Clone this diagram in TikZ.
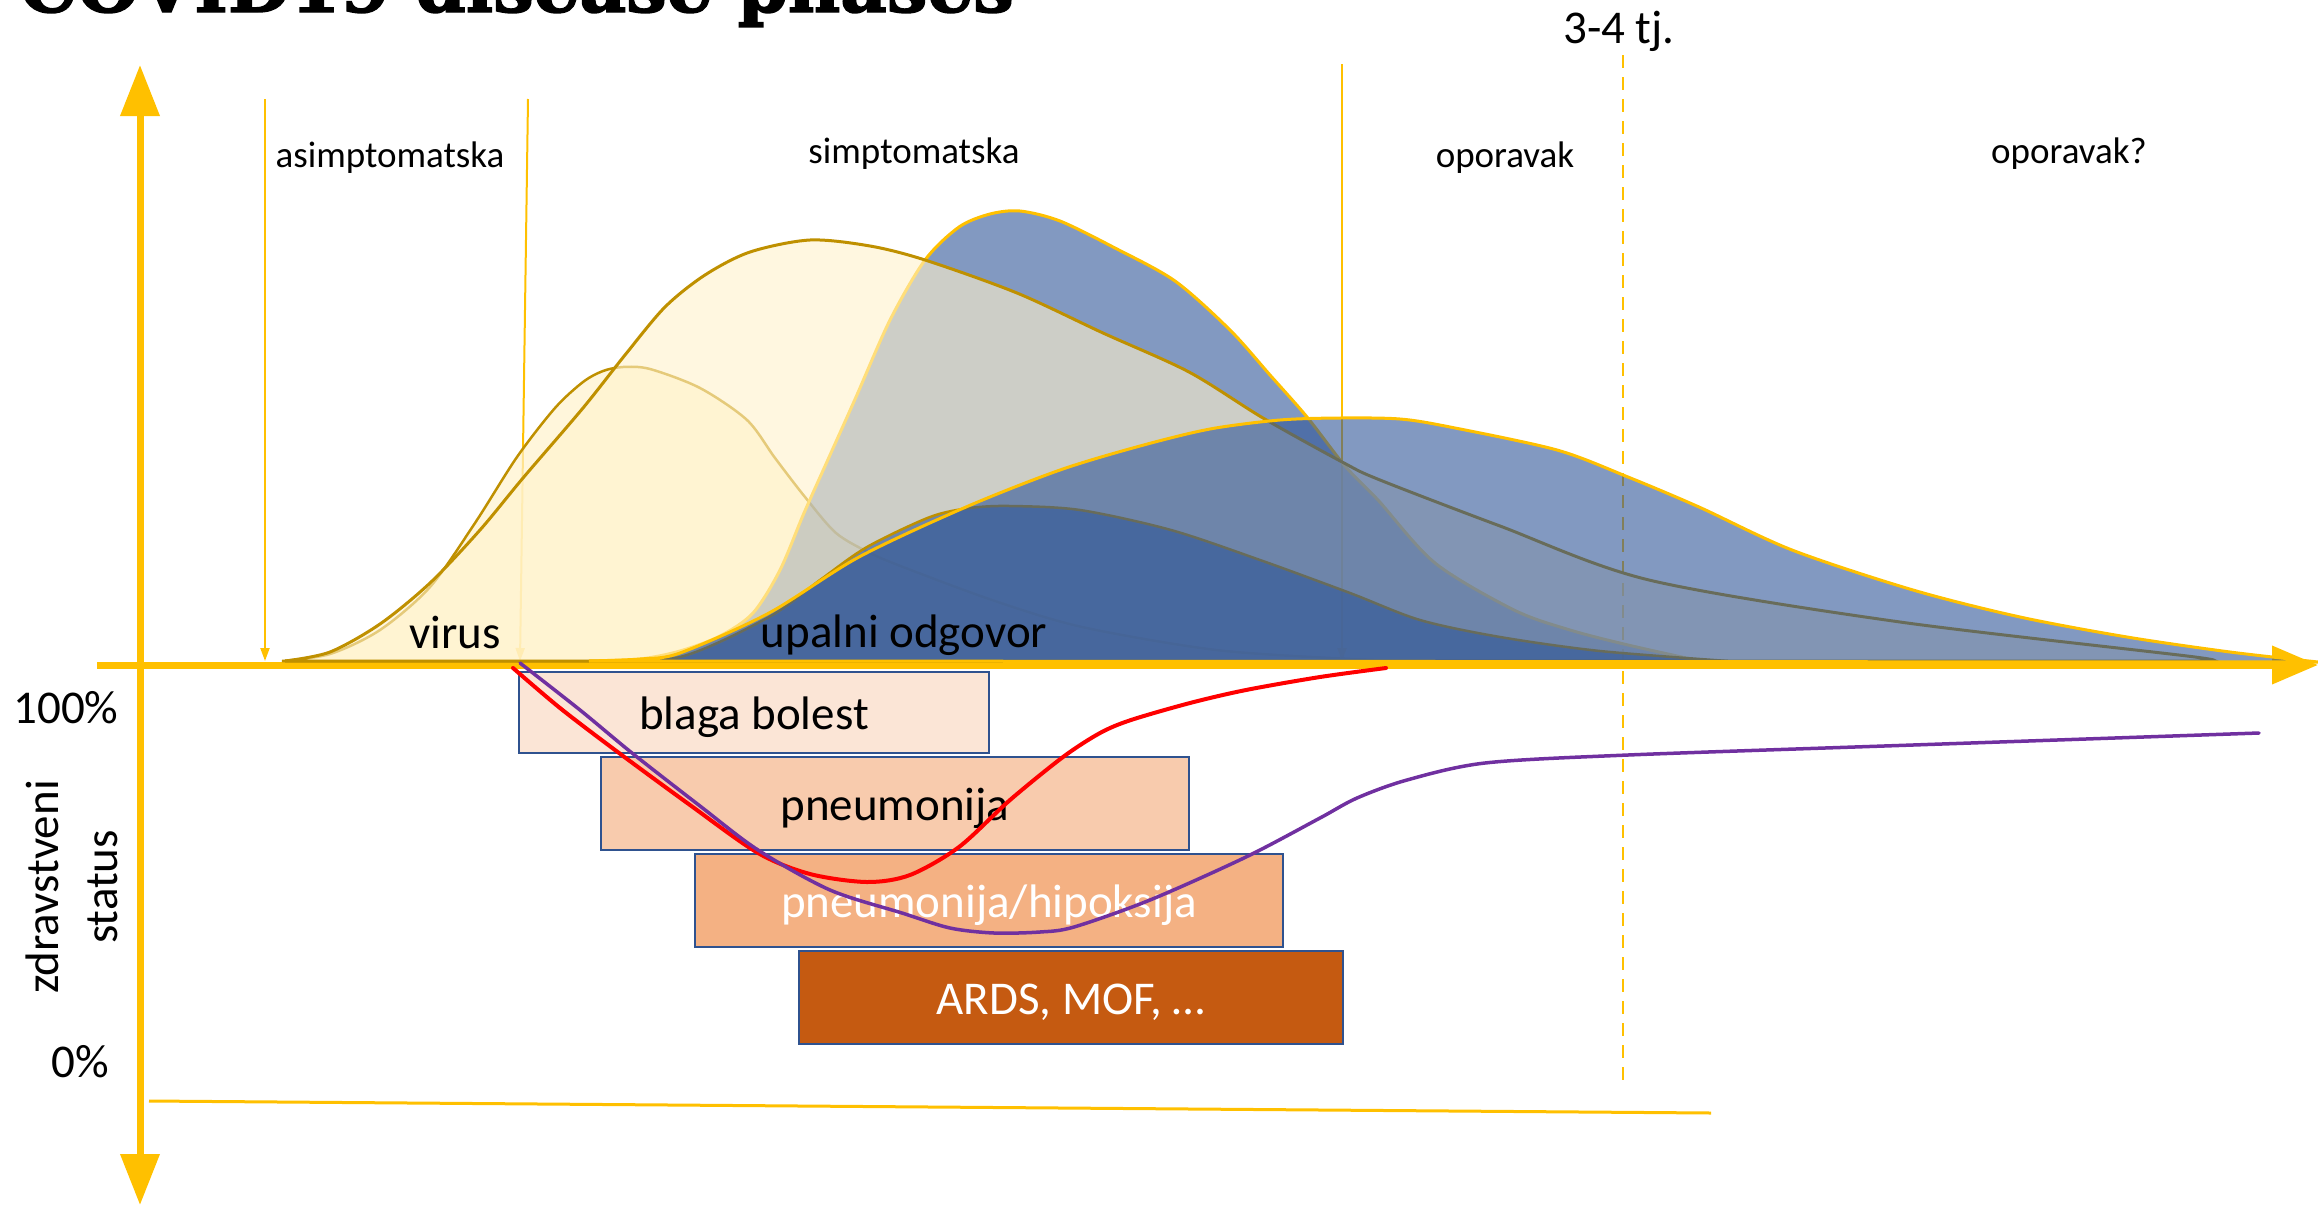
\documentclass[tikz,border=0pt]{standalone}
\usepackage{fontspec}
\setmainfont{Carlito}
\newfontfamily\titlefont{DejaVu Serif}[BoldFeatures={FakeBold=2}]
\usetikzlibrary{arrows.meta}
\definecolor{axisgold}{RGB}{255,192,0}
\definecolor{darkgold}{RGB}{191,144,0}
\definecolor{virusfill}{RGB}{255,242,204}
\definecolor{immunefill}{RGB}{47,85,151}
\definecolor{boxedge}{RGB}{47,82,143}
\definecolor{mildfill}{RGB}{251,229,214}
\definecolor{pneufill}{RGB}{248,203,173}
\definecolor{hypofill}{RGB}{244,177,131}
\definecolor{ardsfill}{RGB}{197,90,17}
\definecolor{courseA}{RGB}{255,0,0}
\definecolor{courseB}{RGB}{112,48,160}

\begin{document}
\begin{tikzpicture}[x=1pt, y=-1pt,
    big/.style={font=\fontsize{47}{59}\selectfont},
    small/.style={font=\fontsize{37}{44}\selectfont},
    axis/.style={axisgold, line width=7pt},
    phase/.style={axisgold, line width=2pt, -{Triangle[length=13pt,width=9pt]}},
    virushump/.style={draw=darkgold, line width=2.5pt, fill=virusfill, fill opacity=0.7},
    virusbig/.style={draw=darkgold, line width=3pt, fill=virusfill, fill opacity=0.6},
    immunehump/.style={draw=axisgold, line width=3pt, fill=immunefill, fill opacity=0.6},
    immunelow/.style={draw=darkgold, line width=2.5pt, fill=immunefill, fill opacity=0.6},
    box/.style={draw=boxedge, line width=2.5pt, big, inner sep=0pt, text height=42pt, text depth=8.5pt},
    course/.style={line width=4pt, line cap=round}]

    \useasboundingbox (0,0) rectangle (2318,1205);

    % Title (cut by the top edge)
    \node[anchor=base west, font=\titlefont\bfseries\fontsize{72}{80}\selectfont] (title) at (16,12) {COVID19 disease phases};

    % Phase borders
    \coordinate (p1top) at (265,99);   \coordinate (p1bot) at (265,661);
    \coordinate (p2top) at (528,99);   \coordinate (p2bot) at (520,661);
    \coordinate (p3top) at (1342,64);  \coordinate (p3bot) at (1342,661);
    \draw[phase] (p1top) -- (p1bot);
    \draw[phase] (p2top) -- (p2bot);
    \draw[phase] (p3top) -- (p3bot);
    \coordinate (weektop) at (1623,55); \coordinate (weekbot) at (1623,1083);
    \draw[axisgold, line width=2pt, dash pattern=on 13pt off 9pt] (weektop) -- (weekbot);

    % Axes
    \coordinate (ytop) at (140,65);  \coordinate (ybot) at (140,1205);
    \coordinate (xleft) at (97,665); \coordinate (xright) at (2318,665);
    \draw[axis, {Triangle[length=51pt,width=38pt]}-{Triangle[length=51pt,width=38pt]}] (ybot) -- (ytop);
    \draw[axis, -{Triangle[length=46pt,width=37pt]}] (xleft) -- (xright);
    \coordinate (baseL) at (149,1101); \coordinate (baseR) at (1711,1113);
    \draw[axisgold, line width=3pt] (baseL) -- (baseR);

    % Virus load and inflammatory response
    \draw[virushump] plot[smooth, tension=0.5] coordinates {(282,661) (330,654) (380,630) (430,587) (475,523) (517,457) (555,408) (583,382) (603,371) (623,367) (650,369) (700,388) (747,420) (775,458) (805,497) (836,533) (870,553) (903,567) (992,600) (1082,627) (1216,650) (1350,659) (1420,661)} -- cycle;
    \draw[immunehump] plot[smooth, tension=0.5] coordinates {(589,661) (640,659) (680,651) (720,636) (753,613) (780,570) (804,513) (830,455) (856,397) (890,320) (925,260) (959,227) (990,214) (1020,211) (1060,221) (1115,248) (1175,281) (1230,330) (1270,375) (1307,417) (1345,466) (1378,500) (1435,563) (1514,610) (1570,630) (1628,645) (1700,661)} -- cycle;
    \draw[virusbig] plot[smooth, tension=0.5] coordinates {(285,661) (330,652) (380,624) (430,583) (480,530) (523,478) (583,408) (625,355) (665,307) (705,275) (750,252) (810,240) (870,246) (925,260) (1017,293) (1103,333) (1189,372) (1263,418) (1344,463) (1380,480) (1500,526) (1649,580) (1900,622) (2195,657) (2200,661)} -- cycle;
    \draw[immunelow] plot[smooth, tension=0.5] coordinates {(589,661) (680,657) (769,617) (820,580) (867,547) (930,517) (970,508) (1010,506) (1080,510) (1171,530) (1260,560) (1350,593) (1420,620) (1500,637) (1600,651) (1728,661)} -- cycle;
    \draw[immunehump] plot[smooth, tension=0.5] coordinates {(589,661) (640,659) (680,653) (769,613) (859,557) (966,507) (1060,470) (1140,446) (1210,429) (1280,420) (1340,418) (1400,419) (1450,427) (1557,450) (1628,477) (1699,507) (1792,550) (1913,590) (2020,617) (2127,637) (2230,652) (2318,662)} -- cycle;

    % Labels
    \foreach \n/\x/\y/\t in {asym/390/167/asimptomatska, sym/914/163/simptomatska, rec/1505/167/oporavak, later/2069/163/oporavak?}
        \node[small, anchor=base] (\n) at (\x,\y) {\t};
    \node[big, anchor=base] (weeks) at (1619,43) {3-4 tj.};
    \node[big, anchor=base] (virus) at (455,648) {virus};
    \node[big, anchor=base] (upalni) at (904,647) {upalni odgovor};
    \node[big, anchor=base] (full) at (66,723) {100\%};
    \node[big, anchor=base] (zero) at (80,1077) {0\%};
    \node[big, rotate=90, align=center] (zdrav) at (72,887) {zdravstveni\\status};

    % Disease severity
    \node[box, fill=mildfill, minimum width=470pt, minimum height=81pt] (blaga) at (754,712.5) {blaga bolest};
    \node[box, fill=pneufill, minimum width=588pt, minimum height=93pt] (pneu) at (895,803.5) {pneumonija};
    \node[box, fill=hypofill, text=white, minimum width=588pt, minimum height=93pt] (hipo) at (989,900.5) {pneumonija/hipoksija};
    \node[box, fill=ardsfill, text=white, minimum width=544pt, minimum height=93pt] (ards) at (1071,997.5) {ARDS, MOF, \dots};

    % Course of health status
    \draw[course, courseA] plot[smooth, tension=0.5] coordinates {(513,668) (560,708) (615,750) (690,805) (758,853) (810,874) (867,882) (910,875) (959,847) (1010,800) (1063,757) (1100,733) (1131,720) (1190,703) (1246,690) (1320,677) (1386,668)};
    \draw[course, courseB, line width=3.5pt] plot[smooth, tension=0.5] coordinates {(520,663) (580,710) (632,753) (700,806) (758,850) (830,890) (902,913) (950,928) (994,933) (1040,932) (1074,927) (1150,900) (1246,857) (1320,818) (1357,798) (1407,780) (1485,763) (1628,755) (1913,745) (2259,733)};
\end{tikzpicture}
\end{document}
